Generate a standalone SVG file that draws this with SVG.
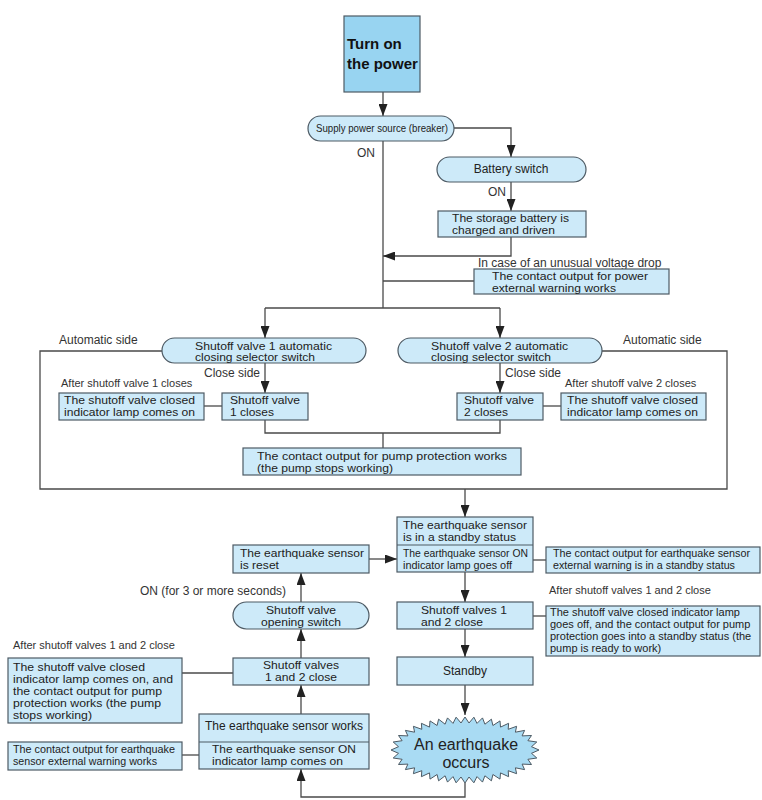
<svg xmlns="http://www.w3.org/2000/svg" width="762" height="800" viewBox="0 0 762 800">
<defs>
<style>
.box{fill:#cdeaf9;stroke:#4d5a64;stroke-width:1.2}
.start{fill:#98d4f1;stroke:#4d5a64;stroke-width:1.2}
.quake{fill:#a9dbf3;stroke:#4d5a64;stroke-width:1}
.div{fill:none;stroke:#4d5a64;stroke-width:1.2}
.c{fill:none;stroke:#4a4a4a;stroke-width:1.3}
.ca{fill:none;stroke:#4a4a4a;stroke-width:1.3;marker-end:url(#ah)}
text{font-family:"Liberation Sans",Arial,sans-serif;fill:#222}
tspan{font-family:"Liberation Sans",Arial,sans-serif}
.t{font-size:12px}
.s{font-size:11px}
.l{font-size:12px;fill:#333}
.ls{font-size:11px;fill:#333}
.b{font-size:15px;font-weight:bold;fill:#111}
.q{font-size:16px;fill:#222}
.m{text-anchor:middle}
</style>
<marker id="ah" viewBox="0 0 12 9" refX="12" refY="4.5" markerWidth="12" markerHeight="9" markerUnits="userSpaceOnUse" orient="auto">
<path d="M0,0 L12,4.5 L0,9 z" fill="#222"/>
</marker>
</defs>
<rect width="762" height="800" fill="#ffffff"/>

<g id="connectors">
<path class="ca" d="M383,92 V116"/>
<path class="ca" d="M454,128 H511 V157"/>
<path class="ca" d="M511,182 V211"/>
<path class="ca" d="M511,237 V256 H383"/>
<path class="c" d="M474,281 H383"/>
<path class="c" d="M383,141 V308"/>
<path class="c" d="M265,308 H500"/>
<path class="ca" d="M265,308 V338"/>
<path class="ca" d="M500,308 V338"/>
<path class="c" d="M162,351 H40 V489 H727 V351 H602"/>
<path class="ca" d="M265,363 V393"/>
<path class="ca" d="M500,363 V393"/>
<path class="c" d="M204,406 H222"/>
<path class="c" d="M543,406 H561"/>
<path class="c" d="M265,420 V433 H500 V420"/>
<path class="c" d="M383,433 V448"/>
<path class="ca" d="M465,489 V517"/>
<path class="ca" d="M369,559 H397"/>
<path class="c" d="M533,560 H546"/>
<path class="ca" d="M465,572 V602"/>
<path class="c" d="M533,616 H546"/>
<path class="ca" d="M465,629 V657"/>
<path class="ca" d="M465,685 V715"/>
<path class="ca" d="M465,783 V797 H301 V769"/>
<path class="ca" d="M301,714 V685"/>
<path class="ca" d="M301,658 V629"/>
<path class="ca" d="M301,602 V573"/>
<path class="c" d="M182,673 H233"/>
<path class="c" d="M182,755 H199"/>
</g>

<g id="labels">
<text class="l" x="357" y="157">ON</text>
<text class="l" x="488" y="196">ON</text>
<text class="l" x="478" y="267">In case of an unusual voltage drop</text>
<text class="l" x="59" y="344">Automatic side</text>
<text class="l" x="623" y="344">Automatic side</text>
<text class="l" x="204" y="377">Close side</text>
<text class="l" x="505" y="377">Close side</text>
<text class="ls" x="61" y="387">After shutoff valve 1 closes</text>
<text class="ls" x="565" y="387">After shutoff valve 2 closes</text>
<text class="ls" x="549" y="594">After shutoff valves 1 and 2 close</text>
<text class="l" x="140" y="595">ON (for 3 or more seconds)</text>
<text class="ls" x="13" y="649">After shutoff valves 1 and 2 close</text>
</g>

<g id="turn-on">
<rect class="start" x="344" y="16" width="76" height="76"/>
<text class="b"><tspan x="347" y="49">Turn on</tspan><tspan x="347" y="69">the power</tspan></text>
</g>

<g id="supply">
<rect class="box" x="308" y="116" width="146" height="25" rx="12.5"/>
<text class="s" x="316" y="132" textLength="132" lengthAdjust="spacingAndGlyphs">Supply power source (breaker)</text>
</g>

<g id="battery-switch">
<rect class="box" x="437" y="157" width="149" height="25" rx="12.5"/>
<text class="t m" x="511" y="173">Battery switch</text>
</g>

<g id="storage-battery">
<rect class="box" x="438" y="211" width="148" height="26"/>
<text class="s"><tspan x="452" y="222" textLength="117" lengthAdjust="spacingAndGlyphs">The storage battery is</tspan><tspan x="452" y="234" textLength="103" lengthAdjust="spacingAndGlyphs">charged and driven</tspan></text>
</g>

<g id="power-warning">
<rect class="box" x="474" y="269" width="195" height="25"/>
<text class="s"><tspan x="492" y="279.5" textLength="156" lengthAdjust="spacingAndGlyphs">The contact output for power</tspan><tspan x="492" y="291.5" textLength="124" lengthAdjust="spacingAndGlyphs">external warning works</tspan></text>
</g>

<g id="selector-1">
<rect class="box" x="162" y="338" width="204" height="25" rx="12.5"/>
<text class="s"><tspan x="195" y="349.5" textLength="137" lengthAdjust="spacingAndGlyphs">Shutoff valve 1 automatic</tspan><tspan x="195" y="361" textLength="120" lengthAdjust="spacingAndGlyphs">closing selector switch</tspan></text>
</g>

<g id="selector-2">
<rect class="box" x="398" y="338" width="204" height="25" rx="12.5"/>
<text class="s"><tspan x="431" y="349.5" textLength="137" lengthAdjust="spacingAndGlyphs">Shutoff valve 2 automatic</tspan><tspan x="431" y="361" textLength="120" lengthAdjust="spacingAndGlyphs">closing selector switch</tspan></text>
</g>

<g id="lamp-1">
<rect class="box" x="59" y="393" width="145" height="27"/>
<text class="s"><tspan x="64" y="404" textLength="131" lengthAdjust="spacingAndGlyphs">The shutoff valve closed</tspan><tspan x="64" y="416" textLength="131" lengthAdjust="spacingAndGlyphs">indicator lamp comes on</tspan></text>
</g>

<g id="valve-1-closes">
<rect class="box" x="222" y="393" width="86" height="27"/>
<text class="s"><tspan x="230" y="404" textLength="70" lengthAdjust="spacingAndGlyphs">Shutoff valve</tspan><tspan x="230" y="416" textLength="44" lengthAdjust="spacingAndGlyphs">1 closes</tspan></text>
</g>

<g id="valve-2-closes">
<rect class="box" x="457" y="393" width="86" height="27"/>
<text class="s"><tspan x="464" y="404" textLength="70" lengthAdjust="spacingAndGlyphs">Shutoff valve</tspan><tspan x="464" y="416" textLength="44" lengthAdjust="spacingAndGlyphs">2 closes</tspan></text>
</g>

<g id="lamp-2">
<rect class="box" x="561" y="393" width="145" height="27"/>
<text class="s"><tspan x="567" y="404" textLength="131" lengthAdjust="spacingAndGlyphs">The shutoff valve closed</tspan><tspan x="567" y="416" textLength="131" lengthAdjust="spacingAndGlyphs">indicator lamp comes on</tspan></text>
</g>

<g id="pump-protection">
<rect class="box" x="243" y="448" width="278" height="27"/>
<text class="s"><tspan x="257" y="460" textLength="250" lengthAdjust="spacingAndGlyphs">The contact output for pump protection works</tspan><tspan x="257" y="472" textLength="136" lengthAdjust="spacingAndGlyphs">(the pump stops working)</tspan></text>
</g>

<g id="sensor-standby">
<rect class="box" x="397" y="517" width="136" height="55"/>
<path class="div" d="M397,545 H533"/>
<text class="s"><tspan x="403" y="529" textLength="124" lengthAdjust="spacingAndGlyphs">The earthquake sensor</tspan><tspan x="403" y="541" textLength="113" lengthAdjust="spacingAndGlyphs">is in a standby status</tspan></text>
<text class="s"><tspan x="403" y="556.5" textLength="125" lengthAdjust="spacingAndGlyphs">The earthquake sensor ON</tspan><tspan x="403" y="568.5" textLength="109" lengthAdjust="spacingAndGlyphs">indicator lamp goes off</tspan></text>
</g>

<g id="sensor-reset">
<rect class="box" x="233" y="545" width="136" height="28"/>
<text class="s"><tspan x="240" y="557" textLength="124" lengthAdjust="spacingAndGlyphs">The earthquake sensor</tspan><tspan x="240" y="569" textLength="39" lengthAdjust="spacingAndGlyphs">is reset</tspan></text>
</g>

<g id="eq-warning-standby">
<rect class="box" x="546" y="547" width="214" height="26"/>
<text class="s"><tspan x="553" y="557" textLength="197" lengthAdjust="spacingAndGlyphs">The contact output for earthquake sensor</tspan><tspan x="553" y="569" textLength="182" lengthAdjust="spacingAndGlyphs">external warning is in a standby status</tspan></text>
</g>

<g id="valves-close-right">
<rect class="box" x="397" y="602" width="136" height="27"/>
<text class="s"><tspan x="421" y="614" textLength="86" lengthAdjust="spacingAndGlyphs">Shutoff valves 1</tspan><tspan x="421" y="626" textLength="62" lengthAdjust="spacingAndGlyphs">and 2 close</tspan></text>
</g>

<g id="lamp-off">
<rect class="box" x="546" y="606" width="214" height="50"/>
<text class="s"><tspan x="550" y="616">The shutoff valve closed indicator lamp</tspan><tspan x="550" y="628">goes off, and the contact output for pump</tspan><tspan x="550" y="640">protection goes into a standby status (the</tspan><tspan x="550" y="652">pump is ready to work)</tspan></text>
</g>

<g id="standby">
<rect class="box" x="397" y="657" width="136" height="28"/>
<text class="t m" x="465" y="675">Standby</text>
</g>

<g id="earthquake">
<polygon class="quake" transform="translate(465,750)" points="74,0 66.5,3.3 71.8,8 62.9,9.3 66.5,14.5 57.1,14.1 59.6,19.6 50.4,17.8 51.6,23.7 43.2,20.7 43.6,26.7 35.5,22.9 35,29.1 27.9,24.5 26.4,30.8 19.9,25.8 17.5,32.1 12,26.6 8.9,32.8 4,27 0,33 -4,27 -8.9,32.8 -12,26.6 -17.5,32.1 -19.9,25.8 -26.4,30.8 -27.9,24.5 -35,29.1 -35.5,22.9 -43.6,26.7 -43.2,20.7 -51.6,23.7 -50.4,17.8 -59.6,19.6 -57.1,14.1 -66.5,14.5 -62.9,9.3 -71.8,8 -66.5,3.3 -74,0 -66.5,-3.3 -71.8,-8 -62.9,-9.3 -66.5,-14.5 -57.1,-14.1 -59.6,-19.6 -50.4,-17.8 -51.6,-23.7 -43.2,-20.7 -43.6,-26.7 -35.5,-22.9 -35,-29.1 -27.9,-24.5 -26.4,-30.8 -19.9,-25.8 -17.5,-32.1 -12,-26.6 -8.9,-32.8 -4,-27 0,-33 4,-27 8.9,-32.8 12,-26.6 17.5,-32.1 19.9,-25.8 26.4,-30.8 27.9,-24.5 35,-29.1 35.5,-22.9 43.6,-26.7 43.2,-20.7 51.6,-23.7 50.4,-17.8 59.6,-19.6 57.1,-14.1 66.5,-14.5 62.9,-9.3 71.8,-8 66.5,-3.3"/>
<text class="q m"><tspan x="466" y="750">An earthquake</tspan><tspan x="466" y="768">occurs</tspan></text>
</g>

<g id="opening-switch">
<rect class="box" x="233" y="602" width="136" height="27" rx="13.5"/>
<text class="s m"><tspan x="301" y="613.5" textLength="70" lengthAdjust="spacingAndGlyphs">Shutoff valve</tspan><tspan x="301" y="625.5" textLength="80" lengthAdjust="spacingAndGlyphs">opening switch</tspan></text>
</g>

<g id="valves-close-left">
<rect class="box" x="233" y="658" width="136" height="27"/>
<text class="s m"><tspan x="301" y="669" textLength="76" lengthAdjust="spacingAndGlyphs">Shutoff valves</tspan><tspan x="301" y="681" textLength="72" lengthAdjust="spacingAndGlyphs">1 and 2 close</tspan></text>
</g>

<g id="lamp-on">
<rect class="box" x="8" y="658" width="174" height="65"/>
<text class="s"><tspan x="13" y="671" textLength="132" lengthAdjust="spacingAndGlyphs">The shutoff valve closed</tspan><tspan x="13" y="683" textLength="160" lengthAdjust="spacingAndGlyphs">indicator lamp comes on, and</tspan><tspan x="13" y="695" textLength="149" lengthAdjust="spacingAndGlyphs">the contact output for pump</tspan><tspan x="13" y="707" textLength="148" lengthAdjust="spacingAndGlyphs">protection works (the pump</tspan><tspan x="13" y="719" textLength="79" lengthAdjust="spacingAndGlyphs">stops working)</tspan></text>
</g>

<g id="sensor-works">
<rect class="box" x="199" y="714" width="170" height="55"/>
<path class="div" d="M199,742 H369"/>
<text class="t m" x="284" y="730">The earthquake sensor works</text>
<text class="s"><tspan x="212" y="753" textLength="144" lengthAdjust="spacingAndGlyphs">The earthquake sensor ON</tspan><tspan x="212" y="765" textLength="131" lengthAdjust="spacingAndGlyphs">indicator lamp comes on</tspan></text>
</g>

<g id="eq-warning">
<rect class="box" x="8" y="742" width="174" height="28"/>
<text class="s"><tspan x="13" y="753" textLength="162" lengthAdjust="spacingAndGlyphs">The contact output for earthquake</tspan><tspan x="13" y="765" textLength="144" lengthAdjust="spacingAndGlyphs">sensor external warning works</tspan></text>
</g>
</svg>
